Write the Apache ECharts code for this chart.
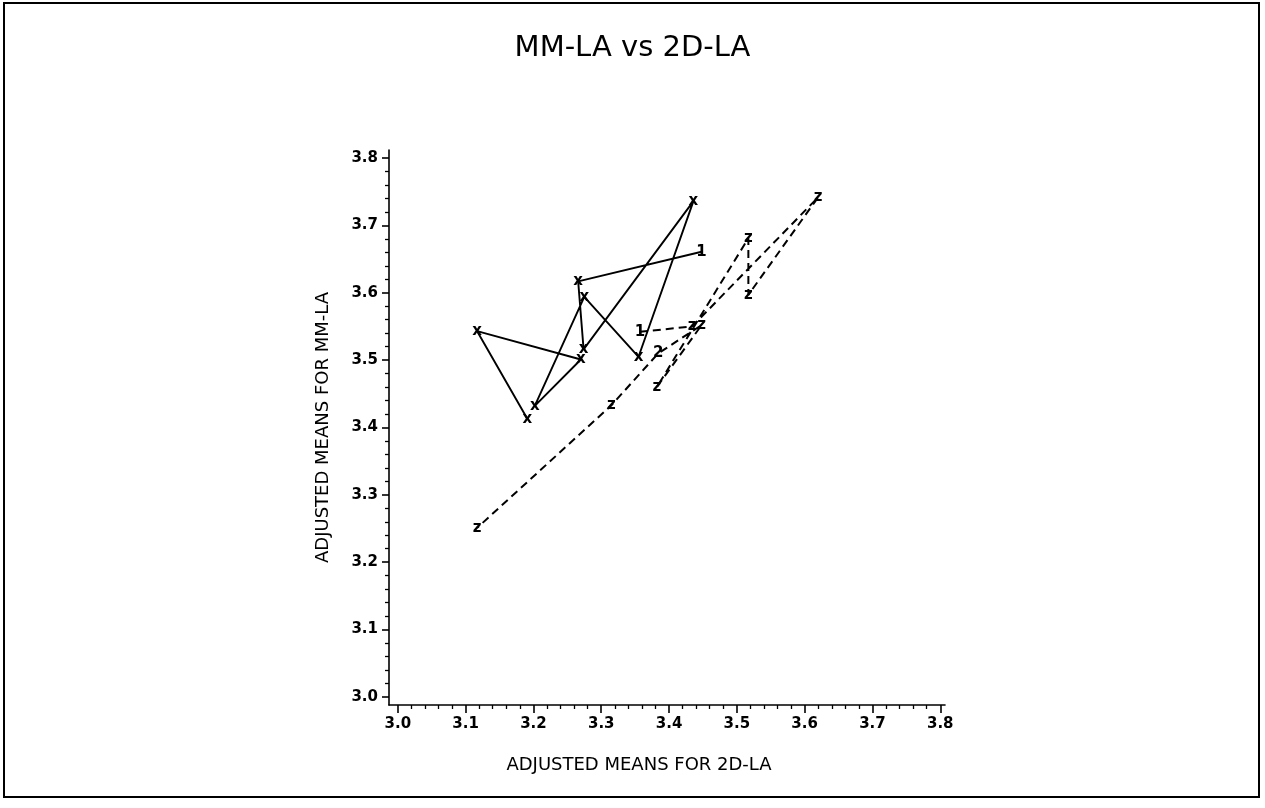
<!DOCTYPE html>
<html><head><meta charset="utf-8">
<script src="https://cdn.jsdelivr.net/npm/echarts@6/dist/echarts.min.js"></script>
<style>
html,body{margin:0;padding:0;background:#fff;}
#frame{position:absolute;left:3px;top:2px;width:1253px;height:792px;border:2px solid #000;}
#chart{position:absolute;left:0;top:0;width:1265px;height:808px;}
</style></head><body>
<div id="frame"></div>
<div id="chart"></div>
<script>
const titleText = 'MM-LA vs 2D-LA';
const xName = 'ADJUSTED MEANS FOR 2D-LA';
const yName = 'ADJUSTED MEANS FOR MM-LA';
const majorTicks = [3.0, 3.1, 3.2, 3.3, 3.4, 3.5, 3.6, 3.7, 3.8];
const minorTicks = [3.02, 3.04, 3.06, 3.08, 3.12, 3.14, 3.16, 3.18, 3.22, 3.24, 3.26, 3.28,
  3.32, 3.34, 3.36, 3.38, 3.42, 3.44, 3.46, 3.48, 3.52, 3.54, 3.56, 3.58,
  3.62, 3.64, 3.66, 3.68, 3.72, 3.74, 3.76, 3.78];

// Series 1 (solid line, 'x' symbols)
const s1X = [3.448, 3.266, 3.274, 3.436, 3.355, 3.275, 3.202, 3.270, 3.117, 3.191];
const s1Y = [3.661, 3.617, 3.516, 3.736, 3.505, 3.594, 3.432, 3.501, 3.543, 3.413];
const s1Marks = ['1', 'x', 'x', 'x', 'x', 'x', 'x', 'x', 'x', 'x'];

// Series 2 (dashed line, 'z' symbols)
const s2X = [3.357, 3.434, 3.620, 3.517, 3.517, 3.382, 3.448, 3.384, 3.315, 3.117];
const s2Y = [3.542, 3.550, 3.742, 3.597, 3.681, 3.460, 3.552, 3.510, 3.433, 3.251];
const s2Marks = ['1', 'z', 'z', 'z', 'z', 'z', 'z', '2', 'z', 'z'];

const toPts = (xs, ys) => xs.map((x, i) => [x, ys[i]]);

const chart = echarts.init(document.getElementById('chart'), null, {renderer: 'canvas'});

const markerLabel = (marks) => ({
  show: true,
  position: 'inside',
  color: '#000',
  fontFamily: 'DejaVu Sans',
  fontSize: 15,
  fontWeight: 'bold',
  formatter: (p) => marks[p.dataIndex]
});

const tickFont = {color: '#000', fontFamily: 'DejaVu Sans', fontWeight: 'bold', fontSize: 15};
const nameFont = {color: '#000', fontFamily: 'DejaVu Sans', fontSize: 18};

chart.setOption({
  animation: false,
  backgroundColor: 'transparent',
  title: {
    text: titleText,
    left: 'center',
    top: 29,
    textStyle: {color: '#000', fontFamily: 'DejaVu Sans', fontWeight: 'normal', fontSize: 29}
  },
  grid: {left: 389, right: 320, top: 150, bottom: 103, containLabel: false},
  xAxis: [{
    type: 'value', min: 2.987, max: 3.807,
    axisLine: {show: true, lineStyle: {color: '#000', width: 1.6}},
    axisTick: {show: true, customValues: majorTicks, length: 8, lineStyle: {color: '#000', width: 1.6}},
    axisLabel: {show: true, customValues: majorTicks, formatter: (v) => v.toFixed(1), margin: 12, ...tickFont},
    splitLine: {show: false},
    name: xName, nameLocation: 'middle', nameGap: 51,
    nameTextStyle: {...nameFont, padding: [0, 56, 0, 0]}
  }, {
    type: 'value', min: 2.987, max: 3.807, position: 'bottom',
    axisLine: {show: false},
    axisTick: {show: true, customValues: minorTicks, length: 4, lineStyle: {color: '#000', width: 1.3}},
    axisLabel: {show: false},
    splitLine: {show: false}
  }],
  yAxis: [{
    type: 'value', min: 2.988, max: 3.812,
    axisLine: {show: true, lineStyle: {color: '#000', width: 1.6}},
    axisTick: {show: true, customValues: majorTicks, length: 7, lineStyle: {color: '#000', width: 1.6}},
    axisLabel: {show: true, customValues: majorTicks, formatter: (v) => v.toFixed(1), margin: 11, ...tickFont},
    splitLine: {show: false},
    name: yName, nameLocation: 'middle', nameGap: 57, nameRotate: 90,
    nameTextStyle: nameFont
  }, {
    type: 'value', min: 2.988, max: 3.812, position: 'left',
    axisLine: {show: false},
    axisTick: {show: true, customValues: minorTicks, length: 4, lineStyle: {color: '#000', width: 1.3}},
    axisLabel: {show: false},
    splitLine: {show: false}
  }],
  series: [{
    type: 'line',
    xAxisIndex: 0, yAxisIndex: 0,
    data: toPts(s1X, s1Y),
    symbol: 'circle', symbolSize: 1, showSymbol: true, showAllSymbol: true,
    itemStyle: {color: 'rgba(0,0,0,0)'},
    lineStyle: {color: '#000', width: 1.9, type: 'solid'},
    label: markerLabel(s1Marks),
    z: 3
  }, {
    type: 'line',
    xAxisIndex: 0, yAxisIndex: 0,
    data: toPts(s2X, s2Y),
    symbol: 'circle', symbolSize: 1, showSymbol: true, showAllSymbol: true,
    itemStyle: {color: 'rgba(0,0,0,0)'},
    lineStyle: {color: '#000', width: 2, type: [8, 5]},
    label: markerLabel(s2Marks),
    z: 3
  }]
});
</script>
</body></html>
